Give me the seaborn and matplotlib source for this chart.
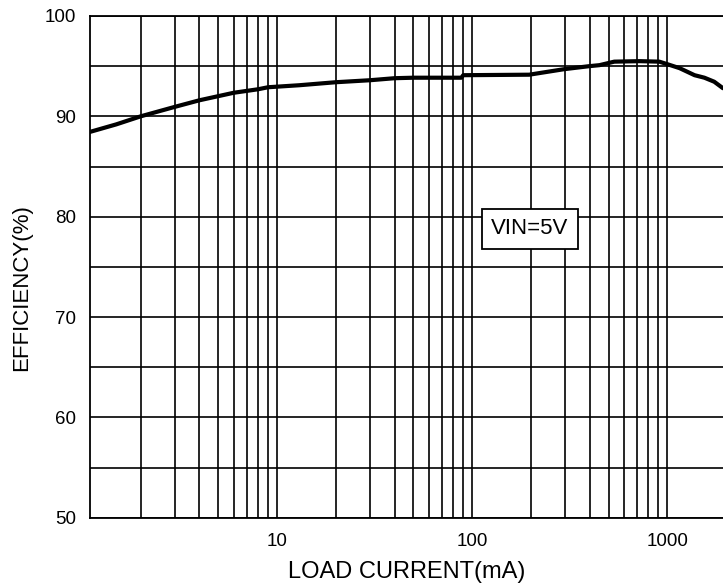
import numpy as np
import pandas as pd
import matplotlib
matplotlib.use("Agg")
import matplotlib.pyplot as plt
import seaborn as sns
from matplotlib.ticker import LogLocator, FixedLocator, NullFormatter, FixedFormatter

# Data
load_current_ma = [1.1, 1.5, 2.0, 3.0, 4.0, 6.0, 8.0, 9.0, 13, 20, 30, 40, 50, 88, 90, 196, 296, 398, 449, 535, 720, 910, 1000, 1157, 1380, 1550, 1740, 1930]
efficiency_pct = [88.45, 89.2, 90.0, 90.95, 91.6, 92.35, 92.7, 92.9, 93.1, 93.4, 93.6, 93.8, 93.85, 93.85, 94.1, 94.15, 94.7, 95.0, 95.1, 95.45, 95.5, 95.45, 95.2, 94.8, 94.1, 93.85, 93.45, 92.8]
x_tick_values = [10, 100, 1000]
x_tick_labels = ["10", "100", "1000"]
y_tick_values = [50, 60, 70, 80, 90, 100]
annotation_text = "VIN=5V"

df = pd.DataFrame({"I": load_current_ma, "E": efficiency_pct})

sns.set_theme(style="white")
plt.rcParams["font.family"] = ["Liberation Sans", "DejaVu Sans"]

fig = plt.figure(figsize=(7.23, 5.85), dpi=100)
ax = fig.add_axes([90 / 723, (585 - 517.7) / 585, 1 - 90 / 723, (517.7 - 16) / 585])

sns.lineplot(data=df, x="I", y="E", ax=ax, color="black", linewidth=3.0, zorder=5)

ax.set_xscale("log")
ax.set_xlim(1.1, 1930)
ax.set_ylim(50, 100)

ax.xaxis.set_major_locator(FixedLocator(x_tick_values))
ax.xaxis.set_major_formatter(FixedFormatter(x_tick_labels))
ax.xaxis.set_minor_locator(LogLocator(base=10, subs=np.arange(2, 10)))
ax.xaxis.set_minor_formatter(NullFormatter())
ax.set_yticks(y_tick_values)
ax.set_yticks(np.arange(55, 100, 10), minor=True)

ax.grid(True, which="both", axis="both", color="black", linewidth=1.2)
ax.set_axisbelow(True)
ax.tick_params(axis="both", which="both", length=0, labelsize=13.5, colors="black")
ax.tick_params(axis="x", pad=11)
ax.tick_params(axis="y", pad=10)

for side in ["left", "top", "bottom"]:
    ax.spines[side].set_color("black")
    ax.spines[side].set_linewidth(1.3)
ax.spines["right"].set_visible(False)

ax.set_xlabel("LOAD CURRENT(mA)", fontsize=17, color="black")
ax.xaxis.set_label_coords(0.5, -(571.7 - 517.7) / 501.7)
ax.xaxis.label.set_va("center")
ax.set_ylabel("EFFICIENCY(%)", fontsize=16, color="black")
ax.yaxis.set_label_coords(-(90 - 22) / 633, (517.7 - 288) / 501.7)
ax.yaxis.label.set_va("center")

ax.text(198, 78.8, annotation_text, fontsize=16, ha="center", va="center", color="black", zorder=6,
        bbox=dict(boxstyle="square,pad=0.42", facecolor="white", edgecolor="black", linewidth=1.3))

fig.savefig("out.png", dpi=100)
